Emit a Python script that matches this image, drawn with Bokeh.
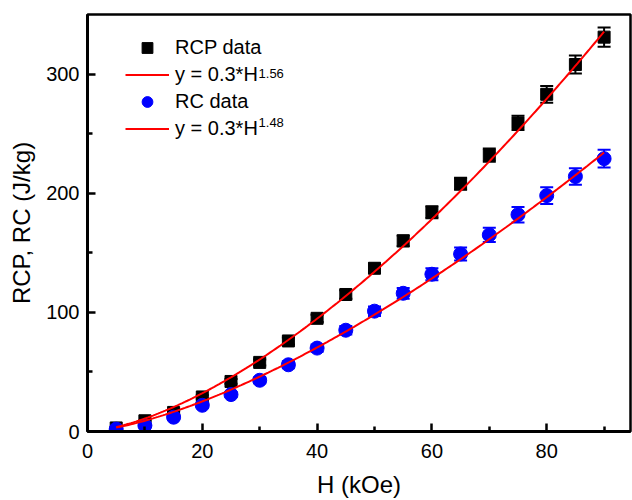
import numpy as np
from bokeh.plotting import figure
from bokeh.models import (ColumnDataSource, Whisker, TeeHead, Legend, LegendItem,
                          Label, Range1d, FixedTicker)
from bokeh.embed import file_html
from bokeh.resources import INLINE

# ---- data ----
H = [5, 10, 15, 20, 25, 30, 35, 40, 45, 50, 55, 60, 65, 70, 75, 80, 85, 90]
rcp = [3, 9, 16, 29, 42, 58, 76, 95, 115, 137, 160, 184, 208, 232, 259, 283, 308, 331]
rcp_err = [0.5, 0.5, 1, 1.5, 2, 2.5, 3, 3, 3.5, 4, 4.5, 5, 5, 5.5, 6, 7, 7.5, 8]
rc = [2, 5, 12, 22, 31, 43, 56, 70, 85, 101, 116, 132, 149, 165, 182, 198, 214, 229]
rc_err = [0.5, 0.5, 1, 1.5, 2, 2.5, 3, 3, 3.5, 4, 4.5, 5, 5.5, 6, 6.5, 7, 7, 7.5]

fit_coef = 0.3
rcp_exp = 1.56
rc_exp = 1.48

x_ticks = [0, 20, 40, 60, 80]
y_ticks = [0, 100, 200, 300]

FONT = "Liberation Sans"

p = figure(width=632, height=500, output_backend="svg", toolbar_location=None,
           x_range=Range1d(0, 94.6), y_range=Range1d(0, 350),
           min_border_left=87, min_border_right=2, min_border_top=14, min_border_bottom=63)
p.grid.visible = False
p.outline_line_color = "black"
p.outline_line_width = 2.5
p.background_fill_color = "white"
p.border_fill_color = "white"

src1 = ColumnDataSource(dict(x=H, y=rcp, lo=[v - e for v, e in zip(rcp, rcp_err)],
                             hi=[v + e for v, e in zip(rcp, rcp_err)]))
src2 = ColumnDataSource(dict(x=H, y=rc, lo=[v - e for v, e in zip(rc, rc_err)],
                             hi=[v + e for v, e in zip(rc, rc_err)]))

r_sq = p.scatter("x", "y", source=src1, marker="square", size=12,
                 fill_color="black", line_color="black")
r_ci = p.scatter("x", "y", source=src2, marker="circle", size=14,
                 fill_color="#0000ff", line_color="#0000ff")

for src, col in ((src1, "black"), (src2, "#0000ff")):
    w = Whisker(source=src, base="x", upper="hi", lower="lo",
                line_color=col, line_width=2,
                upper_head=TeeHead(size=13, line_color=col, line_width=2),
                lower_head=TeeHead(size=13, line_color=col, line_width=2))
    p.add_layout(w)

hf = np.linspace(H[0], H[-1], 200)
l1 = p.line(hf, fit_coef * hf ** rcp_exp, line_color="red", line_width=2)
l2 = p.line(hf, fit_coef * hf ** rc_exp, line_color="red", line_width=2)

legend = Legend(items=[
    LegendItem(label="RCP data", renderers=[r_sq]),
    LegendItem(label="y = 0.3*H", renderers=[l1]),
    LegendItem(label="RC data", renderers=[r_ci]),
    LegendItem(label="y = 0.3*H", renderers=[l2]),
], location=(38, 289))
legend.background_fill_alpha = 0
legend.border_line_alpha = 0
legend.padding = 0
legend.margin = 0
legend.spacing = 0
legend.glyph_width = 44
legend.glyph_height = 27
legend.label_height = 27
legend.label_standoff = 6
legend.label_text_font = FONT
legend.label_text_font_size = "20px"
legend.label_text_color = "black"
p.add_layout(legend, "center")

for yv, txt in ((300.5, "1.56"), (259, "1.48")):
    p.add_layout(Label(x=29.8, y=yv, text=txt, text_font=FONT, text_font_size="13px",
                       text_color="black", text_baseline="middle", text_align="left"))

for ax in (p.xaxis[0], p.yaxis[0]):
    ax.axis_line_width = 3
    ax.axis_line_color = "black"
    ax.major_tick_in = 8
    ax.major_tick_out = 0
    ax.minor_tick_in = 5
    ax.minor_tick_out = 0
    ax.major_tick_line_width = 2.5
    ax.minor_tick_line_width = 2.5
    ax.major_tick_line_color = "black"
    ax.minor_tick_line_color = "black"
    ax.major_label_text_font = FONT
    ax.major_label_text_font_size = "20px"
    ax.major_label_text_color = "black"
    ax.axis_label_text_font = FONT
    ax.axis_label_text_font_size = "24px"
    ax.axis_label_text_font_style = "normal"
    ax.axis_label_text_color = "black"

p.xaxis.ticker = FixedTicker(ticks=x_ticks, minor_ticks=[10, 30, 50, 70, 90])
p.yaxis.ticker = FixedTicker(ticks=y_ticks, minor_ticks=[50, 150, 250])
p.xaxis.axis_label = "H (kOe)"
p.yaxis.axis_label = "RCP, RC (J/kg)"
p.xaxis.major_label_standoff = 12
p.yaxis.major_label_standoff = 8
p.xaxis.axis_label_standoff = 10
p.yaxis.axis_label_standoff = 8

open("out.html", "w").write(file_html(p, INLINE))
